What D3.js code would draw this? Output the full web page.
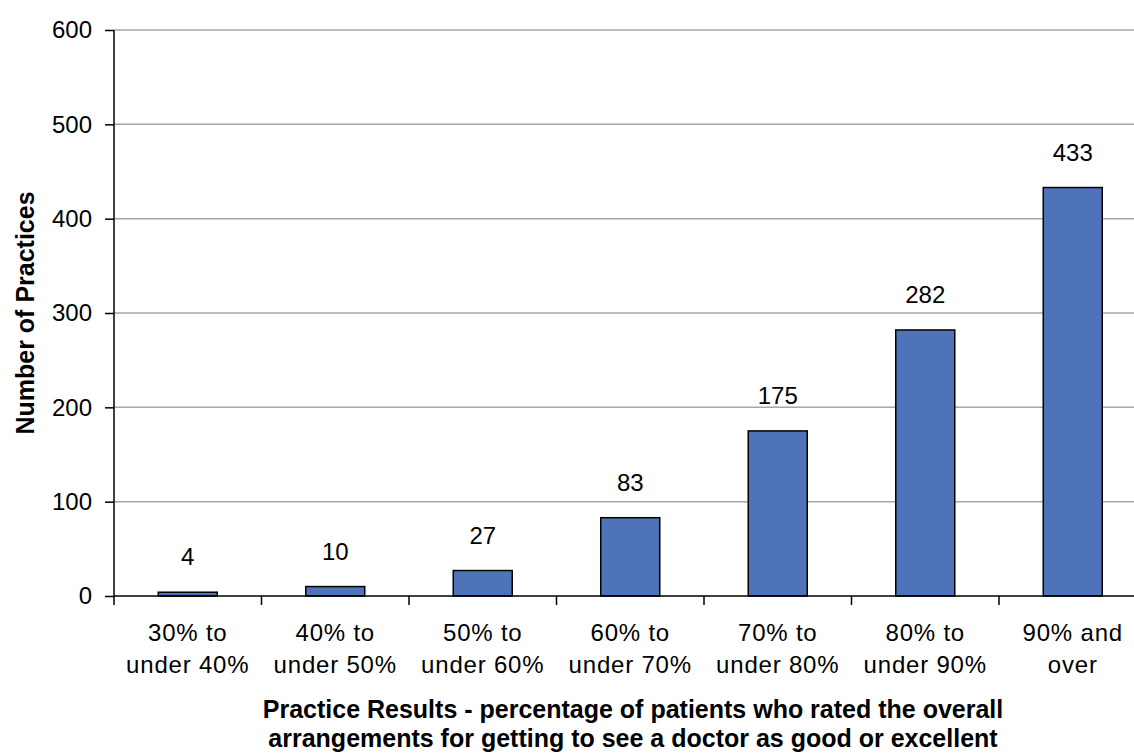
<!DOCTYPE html>
<html>
<head>
<meta charset="utf-8">
<script src="https://cdn.jsdelivr.net/npm/d3@7"></script>
<style>
  body { margin: 0; background: #fff; }
  svg text { fill: #000; }
  .tick text { font-family: "Liberation Sans", Arial, sans-serif; font-size: 24px; }
</style>
</head>
<body>
<div id="chart"></div>
<script>
// Data
const categories = [
    ["30% to", "under 40%"],
    ["40% to", "under 50%"],
    ["50% to", "under 60%"],
    ["60% to", "under 70%"],
    ["70% to", "under 80%"],
    ["80% to", "under 90%"],
    ["90% and", "over"]
];
const practices = [4, 10, 27, 83, 175, 282, 433];
const yTicks = [0, 100, 200, 300, 400, 500, 600];
const yTitle = "Number of Practices";
const xTitle = [
    "Practice Results - percentage of patients who rated the overall",
    "arrangements for getting to see a doctor as good or excellent"
];

const width = 1134, height = 755;
const margin = { left: 114, top: 30, bottom: 159 };
const plotH = height - margin.top - margin.bottom;

const svg = d3.select("#chart").append("svg")
    .attr("width", width)
    .attr("height", height);

const idx = categories.map((d, i) => i);

// band step ~147.5px, axis runs off the right edge like the original
const x = d3.scaleBand().domain(idx).range([margin.left, margin.left + 147.5 * 7]).padding(0);
const y = d3.scaleLinear().domain([0, 600]).range([margin.top + plotH, margin.top]);

// Grid lines
svg.append("g")
    .selectAll("line")
    .data(yTicks.filter(d => d > 0))
    .join("line")
    .attr("x1", margin.left)
    .attr("x2", width)
    .attr("y1", d => y(d))
    .attr("y2", d => y(d))
    .attr("stroke", "#a6a6a6")
    .attr("stroke-width", 1.5);

// Bars
const barW = x.bandwidth() * 0.4;
svg.append("g")
    .selectAll("rect")
    .data(practices)
    .join("rect")
    .attr("x", (d, i) => x(i) + (x.bandwidth() - barW) / 2)
    .attr("y", d => y(d))
    .attr("width", barW)
    .attr("height", d => y(0) - y(d))
    .attr("fill", "#4f73b9")
    .attr("stroke", "#000")
    .attr("stroke-width", 1.5);

// Value labels
svg.append("g")
    .selectAll("text")
    .data(practices)
    .join("text")
    .attr("x", (d, i) => x(i) + x.bandwidth() / 2)
    .attr("y", d => y(d) - 27)
    .attr("text-anchor", "middle")
    .attr("font-family", "Liberation Sans, Arial, sans-serif")
    .attr("font-size", 24)
    .text(d => d);

// Y axis
const yAxis = svg.append("g")
    .attr("transform", `translate(${margin.left},0)`)
    .call(d3.axisLeft(y).tickValues(yTicks).tickSize(9).tickPadding(13));
yAxis.select(".domain").attr("stroke", "#000").attr("stroke-width", 1.5)
    .attr("d", `M0,${y(0)}V${y(600)}`);
yAxis.selectAll(".tick line").attr("stroke", "#000").attr("stroke-width", 1.5);

// X axis: ticks on category boundaries
const xAxis = svg.append("g")
    .attr("transform", `translate(0,${y(0)})`);
xAxis.append("line")
    .attr("x1", margin.left).attr("x2", width)
    .attr("stroke", "#000").attr("stroke-width", 1.5);
xAxis.selectAll(".btick")
    .data(idx)
    .join("line")
    .attr("class", "btick")
    .attr("x1", d => x(d)).attr("x2", d => x(d))
    .attr("y1", 0).attr("y2", 9)
    .attr("stroke", "#000").attr("stroke-width", 1.5);

const catLabels = xAxis.selectAll(".cat")
    .data(categories)
    .join("text")
    .attr("class", "cat")
    .attr("text-anchor", "middle")
    .attr("font-family", "Liberation Sans, Arial, sans-serif")
    .attr("font-size", 24)
    .attr("letter-spacing", 0.8)
    .attr("transform", (d, i) => `translate(${x(i) + x.bandwidth() / 2},0)`);
catLabels.selectAll("tspan")
    .data(d => d)
    .join("tspan")
    .attr("x", 0)
    .attr("y", (d, j) => 45 + j * 32)
    .text(d => d);

// Axis titles
svg.append("text")
    .attr("transform", `translate(34,${(y(0) + y(600)) / 2}) rotate(-90)`)
    .attr("text-anchor", "middle")
    .attr("font-family", "Liberation Sans, Arial, sans-serif")
    .attr("font-weight", "bold")
    .attr("font-size", 25)
    .text(yTitle);

svg.append("text")
    .attr("text-anchor", "middle")
    .attr("font-family", "Liberation Sans, Arial, sans-serif")
    .attr("font-weight", "bold")
    .attr("font-size", 25)
    .selectAll("tspan")
    .data(xTitle)
    .join("tspan")
    .attr("x", 633)
    .attr("y", (d, j) => 718 + j * 29)
    .text(d => d);
</script>
</body>
</html>
